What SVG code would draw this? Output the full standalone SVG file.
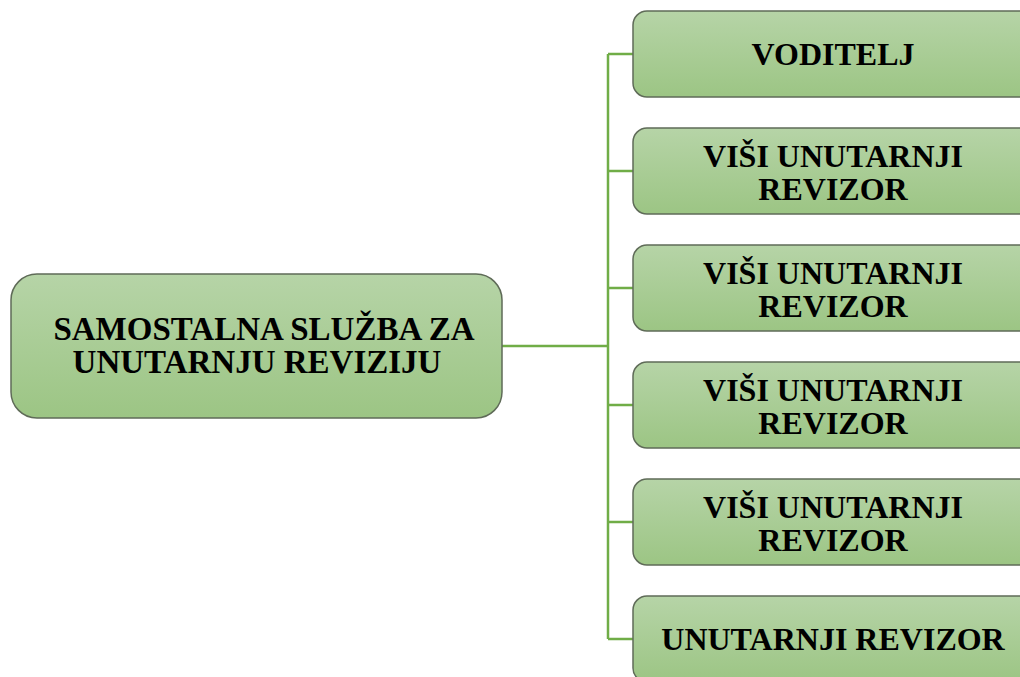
<svg xmlns="http://www.w3.org/2000/svg" width="1020" height="677" viewBox="0 0 1020 677">
<defs>
<linearGradient id="g" x1="0" y1="0" x2="0" y2="1">
<stop offset="0" stop-color="#b6d4a7"/>
<stop offset="1" stop-color="#9cc584"/>
</linearGradient>
<style>
.box{fill:url(#g);stroke:#5f6b58;stroke-width:1.5}
.t{font-family:"Liberation Serif","Times New Roman",serif;font-weight:bold;font-size:32px;fill:#000;text-anchor:middle}
.big{font-size:33px}
.c{fill:none;stroke:#70ad47;stroke-width:2.5}
</style>
</defs>
<rect width="1020" height="677" fill="#fff"/>
<g id="connectors">
<path class="c" d="M502 346H608M608 54V639M608 54H633M608 171H633M608 288H633M608 405H633M608 522H633M608 639H633"/>
</g>
<g id="root">
<rect class="box" x="11" y="274" width="491" height="144" rx="26"/>
<text class="t big" x="264" y="340">SAMOSTALNA SLUŽBA ZA</text>
<text class="t big" x="257" y="373">UNUTARNJU REVIZIJU</text>
</g>
<g id="n1">
<rect class="box" x="633" y="11" width="402" height="86" rx="14"/>
<text class="t" x="833" y="65">VODITELJ</text>
</g>
<g id="n2">
<rect class="box" x="633" y="128" width="402" height="86" rx="14"/>
<text class="t" x="833" y="167">VIŠI UNUTARNJI</text>
<text class="t" x="833" y="200">REVIZOR</text>
</g>
<g id="n3">
<rect class="box" x="633" y="245" width="402" height="86" rx="14"/>
<text class="t" x="833" y="284">VIŠI UNUTARNJI</text>
<text class="t" x="833" y="317">REVIZOR</text>
</g>
<g id="n4">
<rect class="box" x="633" y="362" width="402" height="86" rx="14"/>
<text class="t" x="833" y="401">VIŠI UNUTARNJI</text>
<text class="t" x="833" y="434">REVIZOR</text>
</g>
<g id="n5">
<rect class="box" x="633" y="479" width="402" height="86" rx="14"/>
<text class="t" x="833" y="518">VIŠI UNUTARNJI</text>
<text class="t" x="833" y="551">REVIZOR</text>
</g>
<g id="n6">
<rect class="box" x="633" y="596" width="402" height="86" rx="14"/>
<text class="t" x="833" y="650">UNUTARNJI REVIZOR</text>
</g>
</svg>
